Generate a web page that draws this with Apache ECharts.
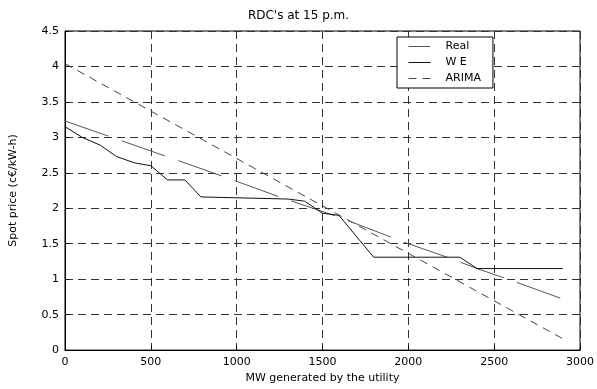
<!DOCTYPE html>
<html><head><meta charset="utf-8">
<script src="https://cdn.jsdelivr.net/npm/echarts@6/dist/echarts.min.js"></script>
<style>html,body{margin:0;padding:0;background:#fff}#c{width:597px;height:389px}</style>
</head><body><div id="c"></div>
<script>
const titleText = "RDC's at 15 p.m.";
const xAxisName = "MW generated by the utility";
const yAxisName = "Spot price (c\u20ac/kW-h)";
const xTicks = [0, 500, 1000, 1500, 2000, 2500, 3000];
const yTicks = [0, 0.5, 1, 1.5, 2, 2.5, 3, 3.5, 4, 4.5];
const seriesNames = ["Real", "W E", "ARIMA"];

// Real (near-straight, long-dash rendering)
const realMW    = [0, 250, 580, 920, 1250, 1590, 2000, 2250, 2400, 2580, 2900];
const realPrice = [3.23, 3.02, 2.74, 2.45, 2.16, 1.88, 1.50, 1.29, 1.15, 1.00, 0.72];

// W E (stepped curve)
const weMW    = [0, 100, 205, 300, 405, 500, 597, 698, 792, 1300, 1396, 1500, 1596, 1798, 2300, 2400, 2900];
const wePrice = [3.15, 3.00, 2.89, 2.73, 2.64, 2.60, 2.40, 2.40, 2.16, 2.13, 2.10, 1.93, 1.90, 1.31, 1.31, 1.15, 1.15];

// ARIMA (straight line)
const arimaMW    = [0, 2900];
const arimaPrice = [4.04, 0.16];

const FONT = 'DejaVu Sans';
const zip = (a, b) => a.map((v, i) => [v, b[i]]);

const chart = echarts.init(document.getElementById('c'), null, {renderer: 'canvas'});
chart.setOption({
  animation: false,
  backgroundColor: '#fff',
  textStyle: {fontFamily: FONT, color: '#000'},
  title: {
    text: titleText, left: 'center', top: 10, padding: 0,
    textStyle: {fontFamily: FONT, fontSize: 12, fontWeight: 'normal', color: '#000'}
  },
  grid: {left: 62, right: 16, top: 31, bottom: 35, show: true, borderColor: '#000', borderWidth: 1, backgroundColor: 'transparent'},
  legend: {
    orient: 'vertical', left: 397, top: 37,
    data: seriesNames,
    backgroundColor: '#fff', borderColor: '#000', borderWidth: 1, borderRadius: 0,
    padding: [3, 12, 3, 11],
    itemWidth: 22, itemHeight: 10, itemGap: 3,
    itemStyle: {color: 'transparent', borderWidth: 0, opacity: 0},
    lineStyle: {width: 1},
    textStyle: {fontFamily: FONT, fontSize: 11, color: '#000', lineHeight: 13, padding: [0, 0, 0, 10]}
  },
  xAxis: {
    type: 'value', min: xTicks[0], max: xTicks[xTicks.length - 1], interval: xTicks[1] - xTicks[0],
    name: xAxisName, nameLocation: 'middle', nameGap: 16,
    nameTextStyle: {fontFamily: FONT, fontSize: 11, color: '#000'},
    axisLine: {show: true, onZero: false, lineStyle: {color: '#000', width: 1}},
    axisTick: {show: true, inside: true, length: 4, lineStyle: {color: '#000'}},
    axisLabel: {fontFamily: FONT, fontSize: 11, color: '#000', margin: 7, formatter: v => String(v)},
    splitLine: {show: true, lineStyle: {color: '#333', width: 1, type: [8, 5]}}
  },
  yAxis: {
    type: 'value', min: yTicks[0], max: yTicks[yTicks.length - 1], interval: yTicks[1] - yTicks[0],
    name: yAxisName, nameLocation: 'middle', nameGap: 46,
    nameTextStyle: {fontFamily: FONT, fontSize: 11, color: '#000'},
    axisLine: {show: true, onZero: false, lineStyle: {color: '#000', width: 1}},
    axisTick: {show: true, inside: true, length: 4, lineStyle: {color: '#000'}},
    axisLabel: {fontFamily: FONT, fontSize: 11, color: '#000', margin: 6, formatter: v => String(v)},
    splitLine: {show: true, lineStyle: {color: '#333', width: 1, type: [8, 5]}}
  },
  series: [
    {name: seriesNames[0], type: 'line', data: zip(realMW, realPrice), symbol: 'none', showSymbol: false,
     lineStyle: {color: '#555', width: 1, type: [46, 14]}, itemStyle: {color: '#555'}, z: 3},
    {name: seriesNames[1], type: 'line', data: zip(weMW, wePrice), symbol: 'none', showSymbol: false,
     lineStyle: {color: '#111', width: 1, type: 'solid'}, itemStyle: {color: '#111'}, z: 4},
    {name: seriesNames[2], type: 'line', data: zip(arimaMW, arimaPrice), symbol: 'none', showSymbol: false,
     lineStyle: {color: '#444', width: 1, type: [8, 6]}, itemStyle: {color: '#444'}, z: 2}
  ]
});
</script></body></html>
